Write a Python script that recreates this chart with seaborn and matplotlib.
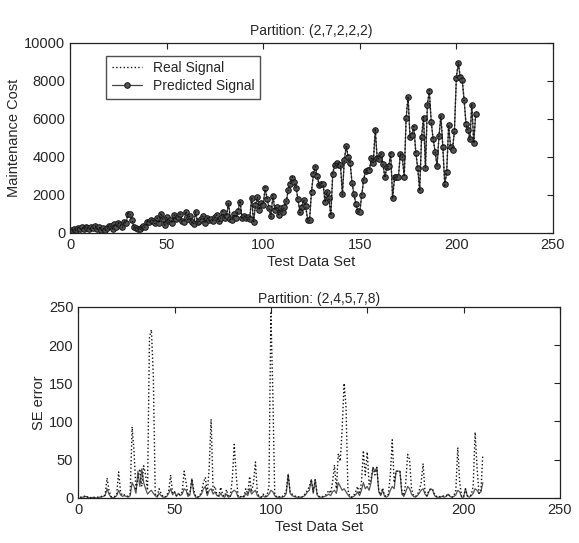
import numpy as np
import pandas as pd
import seaborn as sns
import matplotlib
matplotlib.use("Agg")
import matplotlib.pyplot as plt

# Datos (210 puntos de prueba)
test_idx = list(range(1, 211))

real_cost = [
    150, 220, 120, 260, 180, 300, 200, 350, 240, 180,
    300, 250, 380, 200, 320, 150, 280, 120, 260, 400,
    350, 200, 500, 300, 550, 420, 280, 600, 500, 1050,
    1000, 700, 300, 250, 180, 220, 300, 350, 280, 600,
    550, 700, 650, 480, 800, 500, 1050, 750, 400, 850,
    600, 700, 500, 950, 720, 850, 1000, 600, 580, 1150,
    700, 900, 580, 450, 1100, 580, 630, 750, 900, 500,
    790, 650, 700, 630, 850, 950, 600, 790, 1150, 790,
    900, 1600, 720, 650, 1000, 800, 1200, 1700, 790, 900,
    790, 850, 700, 1900, 520, 1500, 1900, 1200, 1600, 1500,
    2400, 1800, 1300, 840, 2000, 1200, 1400, 950, 1300, 1100,
    1400, 1700, 2300, 2600, 2950, 2700, 2400, 1750, 1050, 1400,
    1750, 1400, 650, 650, 2200, 3150, 3500, 3000, 2500, 2600,
    2600, 1600, 2200, 1800, 900, 3150, 3600, 3700, 3600, 3600,
    2000, 3900, 4600, 4000, 3700, 2600, 2000, 1500, 1100, 1100,
    2000, 2800, 3300, 3300, 3300, 4000, 3700, 5500, 3900, 3900,
    4200, 3600, 2900, 3500, 3500, 4200, 1800, 2950, 2950, 2950,
    4200, 4000, 2950, 6100, 7200, 5000, 5200, 5600, 4200, 3400,
    2200, 5100, 6100, 3400, 6800, 7500, 5800, 4900, 4300, 3500,
    5100, 6200, 4500, 2500, 3200, 5700, 4500, 4400, 5400, 8200,
    9000, 8200, 8100, 7000, 5700, 5400, 4900, 6800, 4700, 6300,
]

predicted_cost = [
    160, 210, 140, 250, 190, 290, 210, 330, 250, 190,
    290, 260, 360, 210, 310, 170, 270, 140, 270, 380,
    340, 220, 480, 310, 530, 410, 300, 580, 510, 1000,
    980, 680, 320, 260, 200, 230, 290, 340, 300, 580,
    560, 680, 640, 500, 780, 520, 1020, 740, 420, 830,
    610, 690, 520, 930, 730, 840, 980, 620, 590, 1120,
    710, 880, 600, 470, 1080, 600, 640, 740, 880, 520,
    780, 660, 710, 640, 840, 930, 620, 800, 1120, 800,
    890, 1560, 740, 670, 980, 810, 1180, 1650, 800, 890,
    800, 840, 720, 1850, 560, 1480, 1870, 1220, 1580, 1490,
    2350, 1780, 1320, 870, 1960, 1230, 1380, 970, 1290, 1120,
    1390, 1680, 2260, 2580, 2900, 2680, 2380, 1770, 1080, 1390,
    1730, 1420, 690, 680, 2170, 3100, 3450, 2980, 2520, 2580,
    2590, 1630, 2180, 1820, 940, 3100, 3560, 3680, 3580, 3570,
    2050, 3850, 4550, 3980, 3680, 2630, 2030, 1530, 1130, 1120,
    1980, 2780, 3280, 3290, 3310, 3960, 3690, 5420, 3920, 3880,
    4170, 3620, 2930, 3480, 3510, 4160, 1850, 2930, 2960, 2940,
    4180, 3990, 2970, 6050, 7150, 5030, 5180, 5570, 4230, 3420,
    2250, 5060, 6070, 3430, 6750, 7450, 5820, 4920, 4280, 3520,
    5080, 6160, 4520, 2550, 3230, 5660, 4520, 4390, 5380, 8150,
    8950, 8180, 8060, 7020, 5730, 5420, 4930, 6750, 4730, 6250,
]

# Error cuadratico: serie punteada (picos altos) y serie continua
se_dotted = [
    1, 1, 2, 3, 1, 0, 1, 1, 0, 1,
    1, 2, 2, 4, 26, 10, 2, 1, 2, 5,
    34, 8, 3, 4, 3, 2, 6, 93, 60, 10,
    25, 38, 15, 42, 30, 10, 210, 220, 160, 5,
    2, 12, 6, 2, 1, 3, 10, 30, 6, 8,
    3, 5, 4, 8, 35, 20, 3, 6, 25, 10,
    2, 1, 3, 8, 20, 27, 5, 40, 103, 10,
    15, 4, 3, 14, 4, 2, 11, 1, 3, 25,
    70, 30, 2, 1, 3, 2, 12, 5, 28, 8,
    20, 47, 6, 2, 1, 5, 2, 3, 15, 242,
    140, 5, 1, 2, 1, 2, 4, 10, 31, 8,
    5, 3, 2, 1, 2, 1, 3, 6, 10, 15,
    24, 8, 24, 6, 2, 1, 2, 3, 5, 10,
    6, 20, 43, 12, 58, 48, 90, 150, 120, 10,
    2, 1, 3, 8, 15, 5, 20, 62, 30, 60,
    18, 25, 40, 30, 40, 10, 4, 13, 3, 2,
    5, 30, 76, 20, 35, 35, 35, 8, 3, 20,
    57, 50, 12, 3, 2, 4, 10, 20, 45, 8,
    3, 10, 12, 11, 4, 2, 1, 2, 3, 2,
    3, 5, 2, 1, 3, 10, 66, 20, 2, 1,
    12, 3, 2, 4, 15, 86, 40, 6, 8, 57,
]

se_solid = [
    0, 1, 1, 2, 1, 0, 0, 1, 0, 0,
    1, 1, 2, 3, 12, 5, 1, 0, 1, 3,
    10, 4, 2, 3, 2, 1, 3, 20, 15, 6,
    35, 15, 38, 20, 12, 5, 8, 10, 6, 3,
    1, 6, 3, 1, 1, 2, 6, 12, 4, 8,
    2, 6, 3, 5, 12, 10, 2, 4, 25, 6,
    1, 1, 2, 5, 12, 15, 3, 10, 12, 5,
    8, 3, 2, 6, 2, 1, 5, 1, 2, 8,
    10, 8, 1, 1, 2, 1, 6, 3, 12, 5,
    8, 10, 3, 1, 1, 3, 1, 2, 5, 10,
    8, 3, 1, 1, 1, 1, 2, 6, 31, 6,
    3, 2, 1, 1, 1, 1, 2, 4, 8, 10,
    24, 6, 24, 4, 1, 1, 1, 2, 3, 5,
    3, 8, 10, 6, 20, 15, 10, 12, 8, 4,
    1, 1, 2, 4, 8, 3, 10, 20, 12, 15,
    10, 20, 40, 35, 40, 8, 3, 10, 2, 1,
    3, 10, 15, 12, 35, 35, 35, 5, 2, 8,
    15, 12, 5, 2, 1, 3, 6, 10, 12, 5,
    2, 8, 12, 10, 3, 1, 1, 1, 2, 1,
    2, 5, 2, 1, 2, 4, 10, 8, 1, 1,
    12, 2, 1, 3, 6, 12, 10, 6, 8, 20,
]

x_ticks = [0, 50, 100, 150, 200, 250]
cost_ticks = [0, 2000, 4000, 6000, 8000, 10000]
se_ticks = [0, 50, 100, 150, 200, 250]

sns.set_style("white")
plt.rcParams['font.family'] = ['Liberation Sans', 'DejaVu Sans']
plt.rcParams['font.size'] = 10.5

df_cost = pd.DataFrame({'Test': test_idx, 'Real': real_cost, 'Pred': predicted_cost})
df_se = pd.DataFrame({'Test': test_idx, 'Dotted': se_dotted, 'Solid': se_solid})

fig = plt.figure(figsize=(5.79, 5.43), dpi=100)
ax1 = fig.add_axes([0.121, 0.571, 0.834, 0.350])
ax2 = fig.add_axes([0.135, 0.083, 0.832, 0.352])

# Grafico superior: senal real vs predicha
sns.lineplot(data=df_cost, x='Test', y='Pred', ax=ax1, color='#444444', linewidth=0.9,
             marker='o', markersize=4, markeredgecolor='#1a1a1a', markerfacecolor='#555555',
             label='Predicted Signal', zorder=2)
sns.lineplot(data=df_cost, x='Test', y='Real', ax=ax1, color='#111111', linewidth=1.0,
             linestyle=':', label='Real Signal', zorder=3)

ax1.set_xlim(0, 250)
ax1.set_ylim(0, 10000)
ax1.set_xticks(x_ticks)
ax1.set_yticks(cost_ticks)
ax1.set_title('Partition: (2,7,2,2,2)', fontsize=10, pad=6)
ax1.set_xlabel('Test Data Set', fontsize=10.5, labelpad=2)
ax1.set_ylabel('Maintenance Cost', fontsize=10.5, labelpad=2)
handles, labels = ax1.get_legend_handles_labels()
ax1.legend(handles[::-1], labels[::-1], loc='upper left', bbox_to_anchor=(0.06, 0.97),
           frameon=True, fancybox=False, edgecolor='#222222', fontsize=10,
           handlelength=2.2, borderpad=0.4, labelspacing=0.3)

# Grafico inferior: error cuadratico
sns.lineplot(data=df_se, x='Test', y='Solid', ax=ax2, color='#555555', linewidth=0.9, zorder=2)
sns.lineplot(data=df_se, x='Test', y='Dotted', ax=ax2, color='#111111', linewidth=1.0,
             linestyle=':', zorder=3)

ax2.set_xlim(0, 250)
ax2.set_ylim(0, 250)
ax2.set_xticks(x_ticks)
ax2.set_yticks(se_ticks)
ax2.set_title('Partition: (2,4,5,7,8)', fontsize=10, pad=3)
ax2.set_xlabel('Test Data Set', fontsize=10.5, labelpad=2)
ax2.set_ylabel('SE error', fontsize=10.5, labelpad=2)

for ax in (ax1, ax2):
    ax.tick_params(direction='in', top=True, right=True, length=4, labelsize=10.5,
                   color='#222222', labeltop=False, labelright=False)
    for s in ax.spines.values():
        s.set_color('#222222')
        s.set_linewidth(0.9)

fig.savefig('out.png', dpi=100)
